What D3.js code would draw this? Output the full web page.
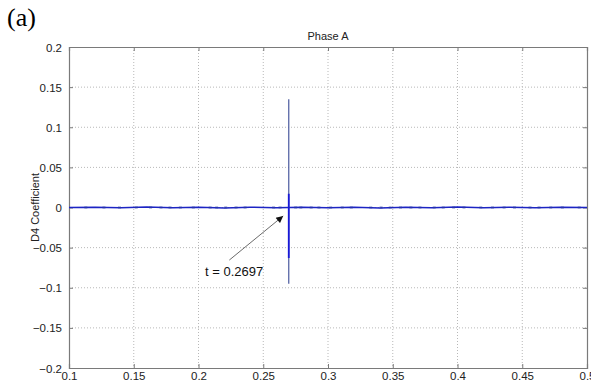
<!DOCTYPE html>
<html>
<head>
<meta charset="utf-8">
<script src="https://cdn.jsdelivr.net/npm/d3@7"></script>
<style>
  body { margin: 0; background: #fff; }
  .tick-label { font: 11.5px "Liberation Sans", Arial, sans-serif; fill: #222; }
</style>
</head>
<body>
<svg id="chart" width="591" height="381"></svg>
<script>
// axis ticks
var xTicks = [0.1, 0.15, 0.2, 0.25, 0.3, 0.35, 0.4, 0.45, 0.5];
var yTicks = [-0.2, -0.15, -0.1, -0.05, 0, 0.05, 0.1, 0.15, 0.2];

// baseline of D4 coefficients (tiny ripples along zero)
var baseT = [0.1, 0.12, 0.14, 0.16, 0.18, 0.2, 0.22, 0.24, 0.26, 0.2697, 0.28, 0.3, 0.32, 0.34, 0.36, 0.38, 0.4, 0.42, 0.44, 0.46, 0.48, 0.5];
var baseV = [0, 0.0004, -0.0003, 0.0005, -0.0004, 0.0003, -0.0005, 0.0004, -0.0003, 0, 0.0004, -0.0004, 0.0003, -0.0005, 0.0004, -0.0003, 0.0005, -0.0004, 0.0003, -0.0004, 0.0003, 0];
// small blobs seen along the baseline
var blobT = [0.113, 0.127, 0.139, 0.152, 0.163, 0.171, 0.178, 0.186, 0.196, 0.209, 0.214, 0.221, 0.229, 0.236, 0.258, 0.263, 0.275, 0.279, 0.287, 0.293, 0.302, 0.311, 0.318, 0.333, 0.341, 0.348, 0.356, 0.364, 0.371, 0.382, 0.389, 0.397, 0.405, 0.418, 0.427, 0.436, 0.444, 0.456, 0.463, 0.472, 0.481, 0.494];

// fault transient at t = 0.2697
var faultT = 0.2697;
var spikeThin = [0, 0.135, -0.095, 0];
var spikeThick = [0, 0.017, -0.063, 0];

var svg = d3.select("#chart");
var margin = { left: 69, right: 4, top: 47, bottom: 13 };
var W = 591, H = 381;
var sans = "'Liberation Sans', Arial, sans-serif";

var x = d3.scaleLinear().domain([0.1, 0.5]).range([margin.left, W - margin.right]);
var y = d3.scaleLinear().domain([-0.2, 0.2]).range([H - margin.bottom, margin.top]);

// grid
var grid = svg.append("g");
grid.selectAll("line.gx").data(xTicks.slice(1, -1)).enter().append("line")
  .attr("x1", d => x(d)).attr("x2", d => x(d))
  .attr("y1", y(0.2)).attr("y2", y(-0.2))
  .attr("stroke", "#b8b8b8").attr("stroke-width", 1).attr("stroke-dasharray", "1,2");
grid.selectAll("line.gy").data(yTicks.slice(1, -1)).enter().append("line")
  .attr("y1", d => y(d)).attr("y2", d => y(d))
  .attr("x1", x(0.1)).attr("x2", x(0.5))
  .attr("stroke", "#b8b8b8").attr("stroke-width", 1).attr("stroke-dasharray", "1,2");

// axes (ticks inward)
var axisColor = "#7a7a7a";
var xb = svg.append("g").attr("transform", "translate(0," + y(-0.2) + ")")
  .call(d3.axisBottom(x).tickValues(xTicks).tickSize(-4).tickFormat(d3.format("")));
var xt = svg.append("g").attr("transform", "translate(0," + y(0.2) + ")")
  .call(d3.axisTop(x).tickValues(xTicks).tickSize(-4).tickFormat(""));
var yl = svg.append("g").attr("transform", "translate(" + x(0.1) + ",0)")
  .call(d3.axisLeft(y).tickValues(yTicks).tickSize(-4).tickFormat(d3.format("")).tickPadding(7));
var yr = svg.append("g").attr("transform", "translate(" + x(0.5) + ",0)")
  .call(d3.axisRight(y).tickValues(yTicks).tickSize(-4).tickFormat(""));
[xb, xt, yl, yr].forEach(function(a) {
  a.select(".domain").attr("stroke", axisColor).attr("stroke-width", 1.2);
  a.selectAll(".tick line").attr("stroke", axisColor);
  a.selectAll("text").attr("class", "tick-label").attr("font-size", null).attr("font-family", null);
});
xb.selectAll("text").attr("y", 11.5).attr("dy", 0);
yl.selectAll("text").attr("dy", "0.35em");

// baseline signal
var line = d3.line().x(d => x(d[0])).y(d => y(d[1]));
svg.append("path")
  .datum(d3.zip(baseT, baseV))
  .attr("d", line)
  .attr("fill", "none").attr("stroke", "#1c24c4").attr("stroke-width", 1.5);
svg.selectAll("rect.blob").data(blobT).enter().append("rect")
  .attr("x", d => x(d) - 1.5).attr("y", y(0) - 1)
  .attr("width", 3).attr("height", 2)
  .attr("fill", "#2a3aa0").attr("opacity", 0.6);

// spikes
svg.append("path")
  .datum(spikeThin.map(v => [faultT, v]))
  .attr("d", line)
  .attr("fill", "none").attr("stroke", "#4a5a9e").attr("stroke-width", 1.2);
svg.append("path")
  .datum(spikeThick.map(v => [faultT, v]))
  .attr("d", line)
  .attr("fill", "none").attr("stroke", "#1818d8").attr("stroke-width", 1.8);

// annotation
svg.append("defs").append("marker")
  .attr("id", "arr").attr("viewBox", "0 0 10 10").attr("refX", 10).attr("refY", 5)
  .attr("markerWidth", 9).attr("markerHeight", 7).attr("orient", "auto")
  .attr("markerUnits", "userSpaceOnUse")
  .append("path").attr("d", "M0,0 L10,5 L0,10 z").attr("fill", "#111");
svg.append("line")
  .attr("x1", x(0.2238)).attr("y1", y(-0.0655))
  .attr("x2", x(0.2654)).attr("y2", y(-0.0105))
  .attr("stroke", "#444").attr("stroke-width", 0.8)
  .attr("marker-end", "url(#arr)");
svg.append("text")
  .attr("x", 205).attr("y", 276)
  .attr("font-family", sans).attr("font-size", 13)
  .attr("fill", "#111")
  .text("t = " + faultT);

// titles
svg.append("text")
  .attr("x", 328).attr("y", 40).attr("text-anchor", "middle")
  .attr("font-family", sans).attr("font-size", 11)
  .attr("fill", "#222").text("Phase A");
svg.append("text")
  .attr("transform", "translate(39," + y(0) + ") rotate(-90)")
  .attr("text-anchor", "middle")
  .attr("font-family", sans).attr("font-size", 11)
  .attr("fill", "#222").text("D4 Coefficient");
svg.append("text")
  .attr("x", 7).attr("y", 26)
  .attr("font-family", "'Liberation Serif', 'Times New Roman', serif").attr("font-size", 26)
  .attr("fill", "#000").text("(a)");
</script>
</body>
</html>
